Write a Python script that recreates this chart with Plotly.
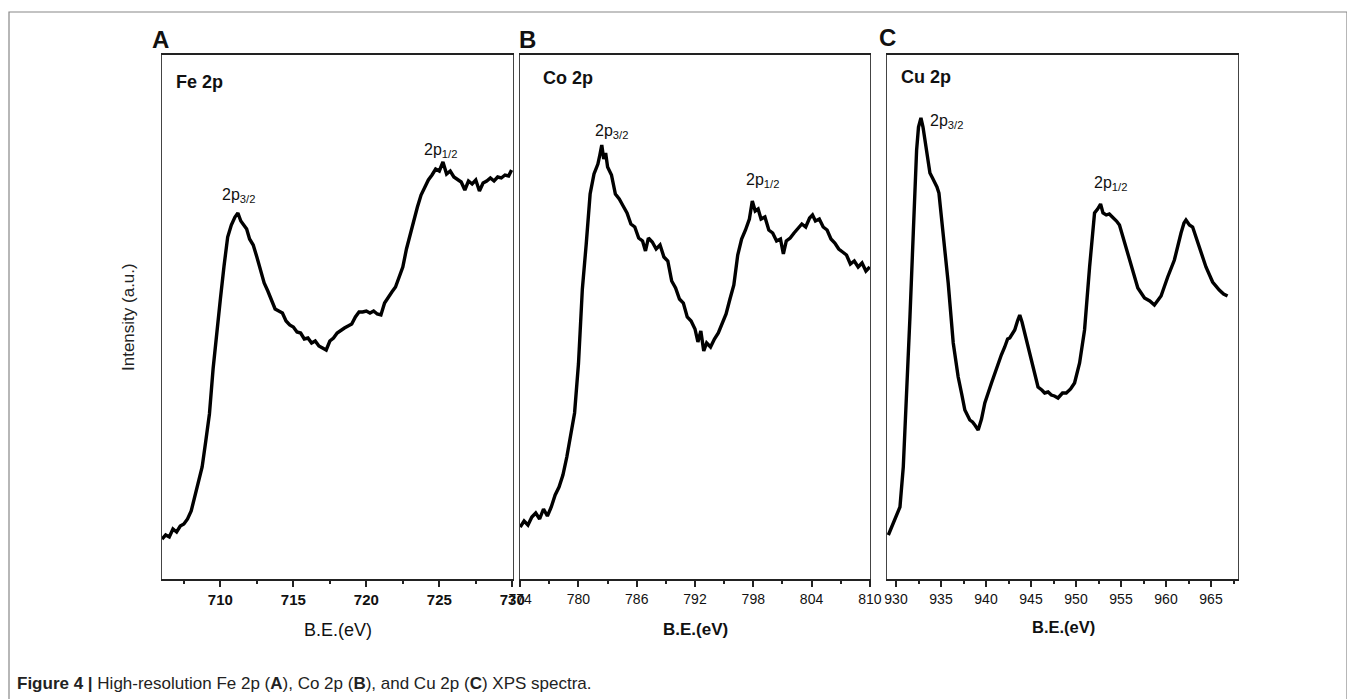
import plotly.graph_objects as go

W, H = 1355, 699

# ---------------- data (binding energy in eV, intensity in a.u.) ----------------
fe_be = [706.0, 706.25, 706.5, 706.75, 707.0, 707.25, 707.5, 707.75, 708.0, 708.25,
         708.5, 708.75, 709.0, 709.25, 709.5, 709.75, 710.0, 710.25, 710.5, 710.75,
         711.0, 711.2, 711.4, 711.6, 711.8, 712.0, 712.25, 712.5, 712.75, 713.0,
         713.25, 713.5, 713.75, 714.0, 714.25, 714.5, 714.75, 715.0, 715.25, 715.5,
         715.75, 716.0, 716.25, 716.5, 716.75, 717.0, 717.25, 717.5, 717.75, 718.0,
         718.25, 718.5, 718.75, 719.0, 719.25, 719.5, 719.75, 720.0, 720.25, 720.5,
         720.75, 721.0, 721.25, 721.5, 721.75, 722.0, 722.25, 722.5, 722.75, 723.0,
         723.25, 723.5, 723.75, 724.0, 724.25, 724.5, 724.75, 725.0, 725.25, 725.5,
         725.75, 726.0, 726.25, 726.5, 726.75, 727.0, 727.25, 727.5, 727.75, 728.0,
         728.25, 728.5, 728.75, 729.0, 729.25, 729.5, 729.75, 729.95]
fe_int = [40, 44, 42, 50, 47, 53, 55, 60, 68, 82,
          95, 112, 138, 165, 210, 248, 280, 313, 342, 354,
          362, 366, 358, 354, 350, 340, 334, 322, 310, 296,
          288, 280, 270, 268, 266, 258, 254, 252, 247, 246,
          240, 241, 236, 238, 233, 231, 229, 238, 241, 246,
          249, 251, 253, 255, 262, 267, 267, 268, 266, 268,
          265, 264, 276, 282, 287, 292, 301, 312, 330, 345,
          360, 372, 384, 392, 399, 404, 410, 408, 417, 405,
          408, 402, 399, 397, 389, 398, 395, 399, 388, 396,
          398, 401, 398, 402, 401, 404, 403, 409]

co_be = [774.0, 774.4, 774.8, 775.2, 775.6, 776.0, 776.4, 776.8, 777.2, 777.6,
         778.0, 778.4, 778.8, 779.2, 779.6, 780.0, 780.4, 780.8, 781.2, 781.6,
         782.0, 782.2, 782.4, 782.6, 782.8, 783.0, 783.4, 783.8, 784.2, 784.6,
         785.0, 785.4, 785.8, 786.2, 786.6, 786.9, 787.2, 787.6, 788.0, 788.4,
         788.8, 789.2, 789.6, 790.0, 790.4, 790.8, 791.2, 791.6, 792.0, 792.3,
         792.6, 792.9, 793.2, 793.6, 794.0, 794.4, 794.8, 795.2, 795.6, 796.0,
         796.4, 796.8, 797.2, 797.6, 797.9, 798.2, 798.5, 798.8, 799.2, 799.6,
         800.0, 800.4, 800.8, 801.1, 801.4, 801.8, 802.2, 802.6, 803.0, 803.4,
         803.8, 804.1, 804.4, 804.8, 805.2, 805.6, 806.0, 806.4, 806.8, 807.2,
         807.6, 808.0, 808.4, 808.8, 809.2, 809.6, 810.0]
co_int = [52, 58, 54, 62, 66, 60, 70, 63, 72, 84,
          92, 104, 122, 145, 166, 215, 290, 335, 385, 405,
          415, 424, 434, 420, 426, 412, 404, 385, 380, 373,
          366, 355, 352, 341, 338, 328, 341, 337, 330, 334,
          322, 318, 298, 291, 280, 276, 262, 258, 250, 237,
          248, 228, 236, 232, 240, 246, 255, 265, 280, 294,
          324, 340, 349, 360, 378, 368, 370, 360, 362, 349,
          346, 338, 340, 325, 338, 341, 346, 350, 355, 352,
          361, 364, 358, 360, 352, 349, 340, 336, 330, 327,
          324, 315, 318, 312, 316, 308, 312]

cu_be = [929.15, 929.7, 930.44, 930.81, 931.18, 931.55, 931.92, 932.29, 932.5, 932.77,
         933.0, 933.22, 933.5, 933.77, 934.0, 934.32, 934.55, 934.77, 935.25, 935.8,
         936.36, 936.91, 937.3, 937.65, 938.2, 938.5, 938.76, 939.13, 939.5, 939.87,
         940.61, 941.35, 941.7, 942.08, 942.4, 942.64, 943.19, 943.5, 943.75, 944.0,
         944.3, 945.04, 945.78, 946.2, 946.52, 946.9, 947.26, 947.6, 948.0, 948.5,
         948.92, 949.4, 949.84, 950.4, 950.95, 951.51, 952.06, 952.4, 952.73, 953.0,
         953.36, 953.7, 954.09, 954.5, 954.83, 955.39, 956.13, 956.87, 957.61, 958.2,
         958.71, 959.1, 959.45, 960.19, 960.93, 961.67, 962.0, 962.22, 962.6, 962.96,
         963.7, 964.44, 965.18, 965.6, 965.92, 966.4, 966.84]
cu_int = [44, 56, 72, 112, 179, 262, 346, 429, 452, 461,
          452, 439, 422, 406, 402, 397, 392, 386, 346, 296,
          236, 202, 185, 169, 159, 157, 154, 149, 160, 176,
          196, 216, 224, 232, 240, 241, 249, 258, 264, 257,
          246, 216, 192, 189, 186, 187, 184, 183, 181, 186,
          186, 190, 196, 216, 249, 312, 366, 370, 375, 366,
          364, 365, 362, 358, 354, 336, 312, 291, 281, 278,
          274, 279, 283, 302, 319, 346, 356, 359, 354, 352,
          332, 312, 297, 292, 289, 285, 283]

fe_ticks = [710, 715, 720, 725, 730]
co_ticks = [774, 780, 786, 792, 798, 804, 810]
cu_ticks = [930, 935, 940, 945, 950, 955, 960, 965]

panel_letters = ["A", "B", "C"]
panel_titles = ["Fe 2p", "Co 2p", "Cu 2p"]
x_title = "B.E.(eV)"
y_title = "Intensity (a.u.)"
caption_bold = "Figure 4 |"
caption_rest = (" High-resolution Fe 2p (<b>A</b>), Co 2p (<b>B</b>), and Cu 2p (<b>C</b>) "
                "XPS spectra.")

# ---------------- layout helpers (reference pixel -> paper) ----------------
# the page body adds an 8 px offset, compensate for it
OFF = 8


def px(x):
    return (x - OFF) / W


def py(y):
    return 1 - (y - OFF) / H


TOP, BOT = 55, 579
FONT = "Liberation Sans, Arial"
panels = [
    dict(l=162, r=513, rng=[706, 730.05], ticks=fe_ticks, minor=2.5,
         tfont=dict(family=FONT, size=15, color="#111"), bold=True),
    dict(l=520, r=870, rng=[773.98, 810.02], ticks=co_ticks, minor=3,
         tfont=dict(family=FONT, size=14, color="#111"), bold=False),
    dict(l=887, r=1238, rng=[929, 968], ticks=cu_ticks, minor=2.5,
         tfont=dict(family=FONT, size=14, color="#111"), bold=False),
]
series = [(fe_be, fe_int), (co_be, co_int), (cu_be, cu_int)]

fig = go.Figure()
layout = dict(
    width=W, height=H,
    margin=dict(l=0, r=0, t=0, b=0, autoexpand=False),
    paper_bgcolor="white", plot_bgcolor="white",
    showlegend=False,
    font=dict(family=FONT, color="#111"),
)

for i, (p, (xs, ys)) in enumerate(zip(panels, series)):
    xa = "xaxis" if i == 0 else f"xaxis{i+1}"
    ya = "yaxis" if i == 0 else f"yaxis{i+1}"
    xr = "x" if i == 0 else f"x{i+1}"
    yr = "y" if i == 0 else f"y{i+1}"
    fig.add_trace(go.Scatter(x=xs, y=ys, mode="lines", xaxis=xr, yaxis=yr,
                             line=dict(color="black", width=3.4), hoverinfo="skip"))
    layout[xa] = dict(
        domain=[px(p["l"]), px(p["r"])], anchor=yr, range=p["rng"],
        tickmode="array", tickvals=p["ticks"],
        ticktext=[f"<b>{t}</b>" if p["bold"] else str(t) for t in p["ticks"]],
        ticks="outside", ticklen=6, tickwidth=1.5, tickcolor="#222",
        minor=dict(dtick=p["minor"], tick0=p["ticks"][0], ticks="outside",
                   ticklen=3, tickwidth=1.5, tickcolor="#222", showgrid=False),
        showline=True, linecolor="#222", linewidth=1.5, mirror=True,
        showgrid=False, zeroline=False, tickfont=p["tfont"], automargin=False,
    )
    layout[ya] = dict(
        domain=[py(BOT), py(TOP)], anchor=xr, range=[0, 524],
        showticklabels=False, ticks="", showline=True, linecolor="#444",
        linewidth=1.2, mirror=True, showgrid=False, zeroline=False, automargin=False,
    )

fig.update_layout(**layout)

ann = []


def add_text(text, x, y, size, xanchor="center", yanchor="middle", bold=False,
             color="#111", angle=0, family=FONT):
    ann.append(dict(text=f"<b>{text}</b>" if bold else text, x=px(x), y=py(y),
                    xref="paper", yref="paper", showarrow=False,
                    xanchor=xanchor, yanchor=yanchor, textangle=angle,
                    font=dict(size=size, color=color, family=family)))


# panel letters
add_text(panel_letters[0], 160, 39, 24, bold=True)
add_text(panel_letters[1], 527, 39, 24, bold=True)
add_text(panel_letters[2], 887, 37, 24, bold=True)
# element titles
add_text(panel_titles[0], 174, 82, 18, xanchor="left", bold=True)
add_text(panel_titles[1], 541, 78, 18, xanchor="left", bold=True)
add_text(panel_titles[2], 899, 77, 18, xanchor="left", bold=True)
# peak labels
sub32 = "2p<sub>3/2</sub>"
sub12 = "2p<sub>1/2</sub>"
add_text(sub32, 238, 195, 16)
add_text(sub12, 440, 150, 16)
add_text(sub32, 611, 132, 16)
add_text(sub12, 762, 180, 16)
add_text(sub32, 928, 122, 16, xanchor="left")
add_text(sub12, 1110, 183, 16)
# axis titles
add_text(x_title, 338, 630, 18)
add_text(x_title, 695, 629, 17, bold=True)
add_text(x_title, 1063, 627, 16.5, bold=True)
add_text(y_title, 128, 317, 17, angle=-90, color="#222")
# caption
add_text(f"<b>{caption_bold}</b>{caption_rest}", 15, 683, 17, xanchor="left", color="#222")

fig.update_layout(annotations=ann)

# outer figure border (left, top, right)
fig.add_shape(type="path", xref="paper", yref="paper",
              path=f"M {px(9)} -0.05 L {px(9)} {py(12)} L {px(1347)} {py(12)} L {px(1347)} -0.05",
              line=dict(color="#888", width=1.2))

fig.write_html("out.html")
